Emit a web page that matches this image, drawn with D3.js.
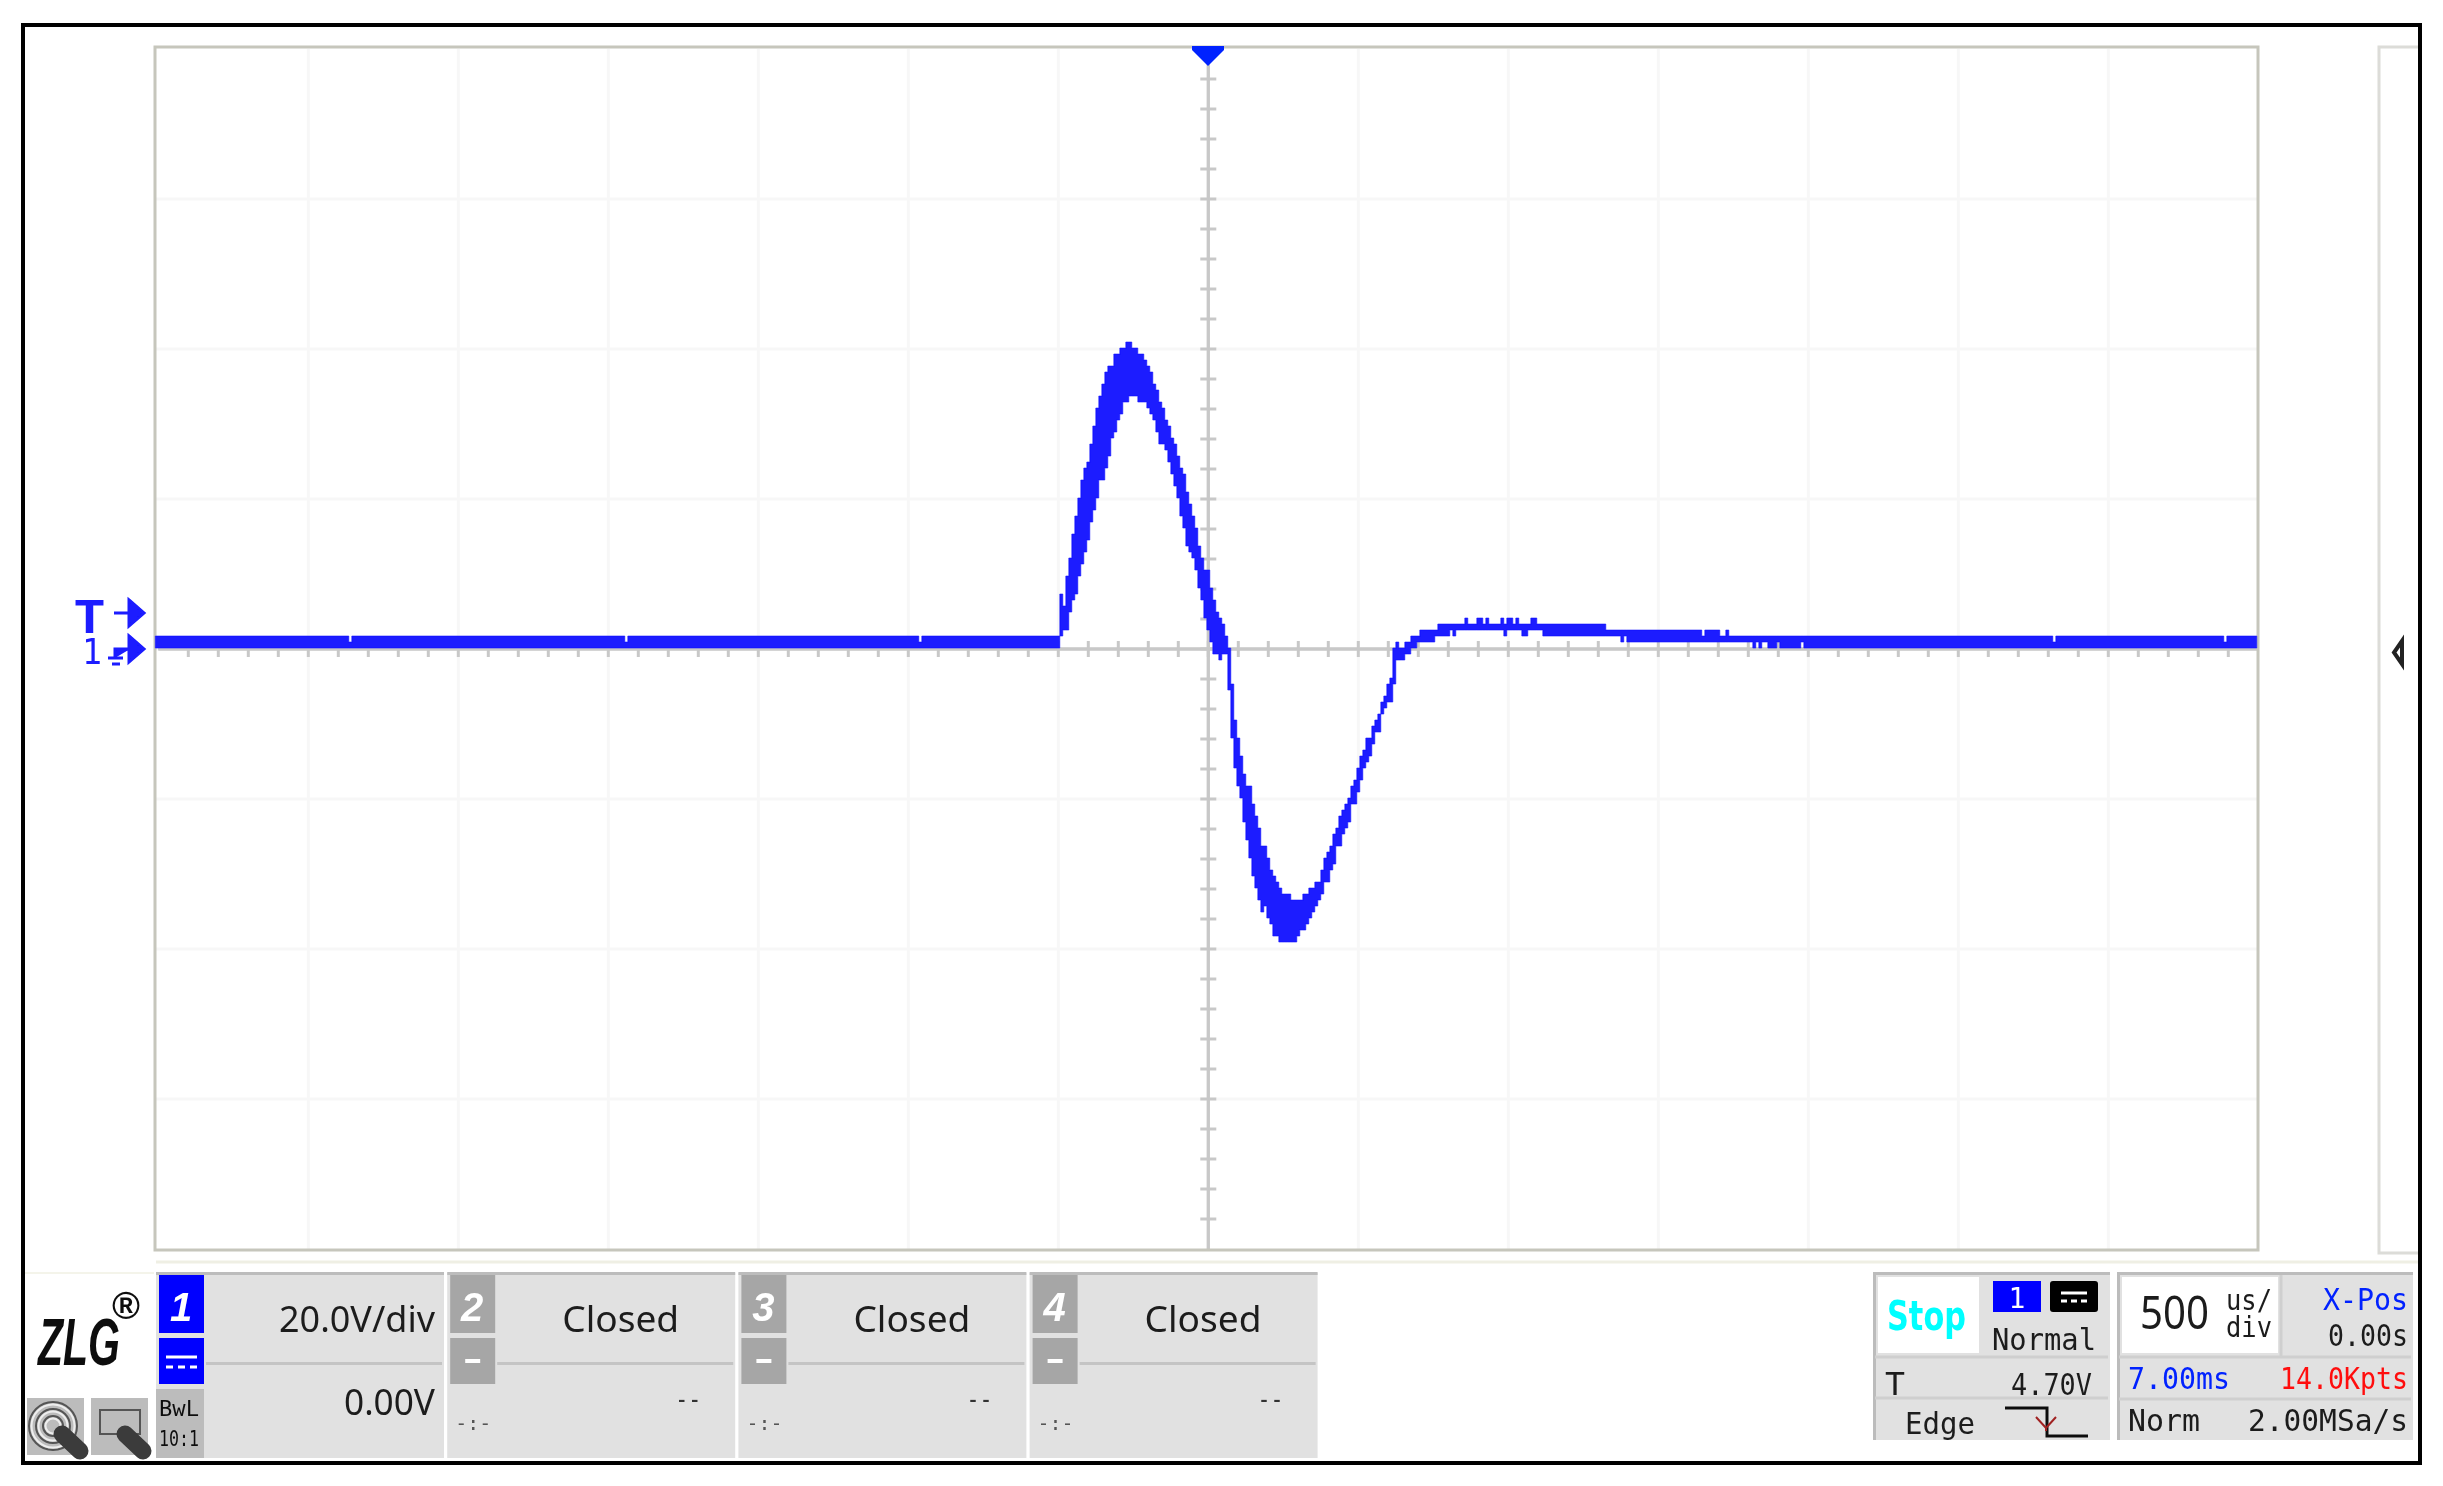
<!DOCTYPE html>
<html>
<head>
<meta charset="utf-8">
<script src="https://cdn.jsdelivr.net/npm/d3@7"></script>
<style>
  body { margin: 0; background: #fff; }
  svg { display: block; }
</style>
</head>
<body>
<div id="scope"></div>
<script>
// time of each display column (us), start of the step
var waveTime = [
  -3510, -2865, -2855, -1945, -1935, -965, -955,
  -495, -485, -475, -465, -455, -445, -435, -425, -415, -405,
  -395, -385, -375, -365, -355, -345, -335, -325, -315, -305,
  -295, -285, -275, -265, -255, -245, -235, -225, -215, -205,
  -195, -185, -175, -165, -155, -145, -135, -125, -115, -105,
  -95, -85, -75, -65, -55, -45, -35, -25, -15, -5,
  5, 15, 25, 35, 45, 55, 65, 75, 85, 95,
  105, 115, 125, 135, 145, 155, 165, 175, 185, 195,
  205, 215, 225, 235, 245, 255, 265, 275, 285, 295,
  305, 315, 325, 335, 345, 355, 365, 375, 385, 395,
  405, 415, 425, 435, 445, 455, 465, 475, 485, 495,
  505, 515, 525, 535, 545, 555, 565, 575, 585, 595,
  605, 615, 625, 635, 645, 655, 665, 675, 685, 695,
  705, 755, 765, 805, 815, 825, 855, 865, 895, 915,
  925, 935, 975, 985, 995, 1015, 1025, 1035, 1045, 1065,
  1075, 1095, 1115, 1325, 1375, 1385, 1395, 1645, 1655, 1705,
  1725, 1735, 1815, 1825, 1835, 1845, 1865, 1895, 1905, 1975,
  1985, 2815, 2825, 3385, 3395, 3495
];

// top of the trace envelope (V)
var waveTop = [
  1.73, 0.93, 1.73, 0.93, 1.73, 0.93, 1.73,
  7.33, 5.73, 9.73, 12.13, 15.33, 17.73, 20.13, 22.53, 24.13, 24.93,
  27.33, 29.73, 32.13, 33.73, 35.33, 36.93, 37.73, 37.73, 39.33, 39.33,
  40.13, 40.13, 40.93, 40.93, 40.13, 40.13, 39.33, 39.33, 38.53, 37.73,
  36.93, 35.33, 34.53, 32.93, 32.13, 30.53, 29.73, 28.13, 27.33, 25.73,
  24.13, 23.33, 20.93, 19.33, 17.73, 16.13, 13.73, 12.13, 10.53, 10.53,
  8.13, 6.53, 4.93, 4.13, 3.33, 1.73, 0.13, -4.67, -9.47, -11.87,
  -14.27, -16.67, -18.27, -18.27, -20.67, -22.27, -23.87, -26.27, -26.27, -27.87,
  -29.47, -30.27, -31.07, -31.87, -32.67, -32.67, -32.67, -33.47, -33.47, -33.47,
  -33.47, -32.67, -32.67, -31.87, -31.87, -31.07, -31.07, -29.47, -27.87, -27.07,
  -26.27, -24.67, -23.87, -22.27, -21.47, -20.67, -19.87, -18.27, -17.47, -15.87,
  -14.27, -13.47, -11.87, -11.87, -10.27, -9.47, -8.67, -7.07, -6.27, -4.67,
  -3.87, 0.13, 0.93, 0.13, 0.13, 0.93, 0.93, 1.73, 1.73, 1.73,
  2.53, 2.53, 3.33, 3.33, 3.33, 3.33, 4.13, 3.33, 4.13, 3.33,
  4.13, 3.33, 4.13, 3.33, 4.13, 3.33, 4.13, 3.33, 3.33, 3.33,
  4.13, 3.33, 3.33, 2.53, 2.53, 2.53, 2.53, 1.73, 2.53, 1.73,
  2.53, 1.73, 1.73, 1.73, 1.73, 1.73, 1.73, 1.73, 1.73, 1.73,
  1.73, 0.93, 1.73, 0.93, 1.73, 1.73
];

// bottom of the trace envelope (V)
var waveBottom = [
  0.13, 0.13, 0.13, 0.13, 0.13, 0.13, 0.13,
  1.73, 2.53, 2.53, 4.93, 6.53, 7.33, 9.73, 11.33, 12.93, 14.53,
  16.93, 18.53, 20.13, 22.53, 22.53, 24.13, 25.73, 28.13, 28.93, 30.53,
  31.33, 32.93, 32.93, 33.73, 33.73, 33.73, 32.93, 32.93, 32.93, 32.13,
  31.33, 30.53, 28.93, 27.33, 27.33, 26.53, 24.93, 23.33, 21.73, 20.13,
  17.73, 16.13, 13.73, 12.93, 12.13, 10.53, 8.13, 6.53, 4.13, 2.53,
  0.93, -0.67, -0.67, -1.47, -0.67, -0.67, -5.47, -11.87, -15.87, -18.27,
  -19.87, -23.07, -25.47, -27.87, -30.27, -31.87, -33.47, -35.07, -34.27, -35.87,
  -36.67, -38.27, -38.27, -39.07, -39.07, -39.07, -39.07, -39.07, -39.07, -38.27,
  -37.47, -37.47, -36.67, -35.87, -35.07, -34.27, -33.47, -32.67, -31.07, -31.07,
  -29.47, -28.67, -26.27, -26.27, -24.67, -23.87, -23.07, -20.67, -20.67, -19.07,
  -17.47, -15.87, -15.07, -14.27, -12.67, -11.07, -11.07, -8.67, -7.87, -7.07,
  -7.07, -4.67, -1.47, -1.47, -1.47, -0.67, -0.67, 0.13, 0.13, 0.93,
  0.93, 1.73, 1.73, 2.53, 1.73, 2.53, 2.53, 2.53, 2.53, 2.53,
  2.53, 2.53, 2.53, 1.73, 2.53, 2.53, 2.53, 2.53, 1.73, 2.53,
  2.53, 2.53, 1.73, 1.73, 0.93, 1.73, 0.93, 0.93, 0.93, 0.93,
  0.93, 0.93, 0.13, 0.93, 0.13, 0.93, 0.13, 0.93, 0.13, 0.93,
  0.13, 0.13, 0.13, 0.13, 0.13, 0.13
];

var channelNames = ["1", "2", "3", "4"];
var channelScales = ["20.0V/div", "Closed", "Closed", "Closed"];
var channelOffsets = ["0.00V", "--", "--", "--"];

var W = 2443, H = 1486;
var blue = "#1a1aff", axisGray = "#c8c8c8", frameGray = "#c6c6bc", panelGray = "#e1e1e1", edgeGray = "#bcbcbc", boxGray = "#a6a6a6";
var mono = "'DejaVu Sans Mono', monospace", sans = "'Noto Sans', sans-serif";

var svg = d3.select("#scope").append("svg")
    .attr("width", W)
    .attr("height", H);

// the reference is an upscaled screenshot, so soften everything a little
var defs = svg.append("defs");
defs.append("filter").attr("id", "soft")
  .append("feGaussianBlur").attr("stdDeviation", 0.6);

var root = svg.append("g").attr("filter", "url(#soft)");
root.append("rect").attr("width", W).attr("height", H).attr("fill", "#fff");

// set the ranges: 14 x 500us across, 8 x 20V up
var x = d3.scaleLinear().domain([-3500, 3500]).range([158.3, 2258.3]);
var y = d3.scaleLinear().domain([-80, 80]).range([1249, 49]);

// grid
var gridX = root.append("g")
    .attr("transform", "translate(0,49)")
    .call(d3.axisBottom(x).tickValues(d3.range(-3000, 3001, 500)).tickSize(1200).tickFormat("").offset(0));
var gridY = root.append("g")
    .attr("transform", "translate(155,0)")
    .call(d3.axisRight(y).tickValues(d3.range(-60, 61, 20)).tickSize(2103).tickFormat("").offset(0));
gridX.select(".domain").remove();
gridY.select(".domain").remove();
root.selectAll("g.tick line").attr("stroke", "#f7f7f7").attr("stroke-width", 3);

// centre axes, ticks on both sides of the line
function centreAxis(axis, tx, ty) {
  var g = root.append("g")
      .attr("transform", "translate(" + tx + "," + ty + ")")
      .call(axis.tickSize(8).tickSizeOuter(0).tickFormat("").offset(0));
  g.select(".domain").attr("stroke", axisGray).attr("stroke-width", 3);
  g.selectAll("line").attr("stroke", axisGray).attr("stroke-width", 3);
}
var xTicks = d3.range(-3400, 3401, 100);
var yTicks = d3.range(-76, 77, 4);
centreAxis(d3.axisBottom(x).tickValues(xTicks), 0, y(0));
centreAxis(d3.axisTop(x).tickValues(xTicks), 0, y(0));
centreAxis(d3.axisLeft(y).tickValues(yTicks), x(0), 0);
centreAxis(d3.axisRight(y).tickValues(yTicks), x(0), 0);

// plot frame and the empty strip on the right
root.append("rect")
    .attr("x", 155).attr("y", 47).attr("width", 2103).attr("height", 1203)
    .attr("fill", "none").attr("stroke", frameGray).attr("stroke-width", 3);
root.append("path")
    .attr("d", "M2418,47H2379V1253H2418")
    .attr("fill", "none").attr("stroke", "#dcdcd8").attr("stroke-width", 3);
root.append("path")
    .attr("d", "M2402,641L2394,652.5L2402,664Z")
    .attr("fill", "#fff").attr("stroke", "#222").attr("stroke-width", 4);

// the waveform
var area = d3.area()
    .curve(d3.curveStepAfter)
    .x(function(d) { return x(d); })
    .y0(function(d, i) { return y(waveBottom[i]); })
    .y1(function(d, i) { return y(waveTop[i]); });
root.append("path")
    .datum(waveTime)
    .attr("d", area)
    .attr("fill", blue)
    .attr("stroke", blue)
    .attr("stroke-width", 0.6);

// trigger position marker
root.append("path")
    .attr("d", "M1192,46H1224V50L1208,66L1192,50Z")
    .attr("fill", "#0024ff");

function label(parent, text, xPos, yPos, opts) {
  var t = parent.append("text")
      .text(text)
      .attr("x", xPos)
      .attr("y", yPos)
      .attr("font-family", opts.family || mono)
      .attr("font-size", opts.size || 30)
      .attr("fill", opts.fill || "#1c1c1c")
      .attr("text-anchor", opts.anchor || "start");
  if (opts.weight) t.attr("font-weight", opts.weight);
  if (opts.style) t.attr("font-style", opts.style);
  if (opts.width) t.attr("textLength", opts.width).attr("lengthAdjust", "spacingAndGlyphs");
  return t;
}

// level markers left of the plot
label(root, "T", 74, 633, {size: 50, fill: blue, width: 31, family: "'Liberation Mono', monospace", weight: "bold"});
label(root, "1", 82, 664, {size: 36, fill: blue, width: 20, family: "'DejaVu Sans Mono', monospace"});
root.append("path").attr("d", "M114,613H130M129,600L144,613L129,626Z").attr("stroke", blue).attr("stroke-width", 3).attr("fill", blue);
root.append("path").attr("d", "M115,658V649H130M129,636L144,649L129,662Z").attr("stroke", blue).attr("stroke-width", 3).attr("fill", blue);
root.append("path").attr("d", "M108,658H123M112,664H120").attr("stroke", blue).attr("stroke-width", 3).attr("fill", "none");

// separators under the plot
root.append("path").attr("d", "M156,1262H2418").attr("stroke", "#efefe4").attr("stroke-width", 3);
root.append("path").attr("d", "M25,1273H154").attr("stroke", "#f4f4ea").attr("stroke-width", 2);

// logo and touch icons
label(root, "ZLG", 38, 1365, {size: 66, fill: "#111", weight: "bold", style: "italic", family: "'Liberation Sans', sans-serif", width: 82});
label(root, "\u00ae", 112, 1319, {size: 38, fill: "#111", weight: "bold", family: "'Liberation Sans', sans-serif"});
root.append("rect").attr("x", 27).attr("y", 1398).attr("width", 57).attr("height", 57).attr("fill", "#bcbcbc");
root.append("rect").attr("x", 91).attr("y", 1398).attr("width", 57).attr("height", 57).attr("fill", "#bcbcbc");
[24, 17, 10].forEach(function(r) {
  root.append("circle").attr("cx", 53).attr("cy", 1426).attr("r", r)
      .attr("fill", "none").attr("stroke", "#555").attr("stroke-width", 2);
  root.append("circle").attr("cx", 53).attr("cy", 1426).attr("r", r - 2.5)
      .attr("fill", "none").attr("stroke", "#eee").attr("stroke-width", 2);
});
root.append("rect").attr("x", 100).attr("y", 1410).attr("width", 40).attr("height", 24)
    .attr("fill", "none").attr("stroke", "#555").attr("stroke-width", 2);
root.append("path").attr("d", "M62,1434L80,1451M125,1434L143,1451")
    .attr("stroke", "#3a3a3a").attr("stroke-width", 17).attr("stroke-linecap", "round");

// channel panels
channelNames.forEach(function(name, i) {
  var px = 156 + i * 291.2;
  var on = i === 0;
  var g = root.append("g").attr("transform", "translate(" + px + ",0)");
  g.append("rect").attr("y", 1273).attr("width", 288).attr("height", 185).attr("fill", panelGray);
  g.append("rect").attr("y", 1272).attr("width", 288).attr("height", 3).attr("fill", edgeGray);
  g.append("rect").attr("x", 3).attr("y", 1275).attr("width", 45).attr("height", 58).attr("fill", on ? "#0000ff" : boxGray);
  g.append("rect").attr("x", 3).attr("y", 1338).attr("width", 45).attr("height", 46).attr("fill", on ? "#0000ff" : boxGray);
  g.append("rect").attr("x", 50).attr("y", 1362).attr("width", 236).attr("height", 3).attr("fill", "#c4c4c4");
  label(g, name, 25, 1321, {size: 40, fill: "#fff", weight: "bold", style: "italic", anchor: "middle", family: "'Liberation Sans', sans-serif"});
  if (on) {
    g.append("path").attr("d", "M10,1357H41").attr("stroke", "#fff").attr("stroke-width", 3);
    g.append("path").attr("d", "M10,1367H41").attr("stroke", "#fff").attr("stroke-width", 3).attr("stroke-dasharray", "7 5");
    g.append("rect").attr("x", 0).attr("y", 1389).attr("width", 48).attr("height", 69).attr("fill", "#bcbcbc");
    label(g, "BwL", 3, 1416, {size: 22, width: 40, fill: "#111"});
    label(g, "10:1", 3, 1446, {size: 22, width: 40, fill: "#111"});
    label(g, channelScales[i], 123, 1332, {size: 36, family: sans, width: 156});
    label(g, channelOffsets[i], 188, 1415, {size: 36, family: sans, width: 91});
  } else {
    g.append("path").attr("d", "M18,1361H33").attr("stroke", "#fff").attr("stroke-width", 4);
    label(g, channelScales[i], 115, 1332, {size: 36, family: sans, width: 117});
    label(g, channelOffsets[i], 228, 1408, {size: 26, width: 26, fill: "#333"});
    label(g, "-:-", 8, 1430, {size: 20, width: 36, fill: "#555"});
  }
});

// trigger box
var trig = root.append("g");
trig.append("rect").attr("x", 1873).attr("y", 1272).attr("width", 237).attr("height", 168).attr("fill", panelGray);
trig.append("path").attr("d", "M1873,1273.5H2110M1874.5,1272V1440").attr("stroke", edgeGray).attr("stroke-width", 3).attr("fill", "none");
trig.append("rect").attr("x", 1878).attr("y", 1277).attr("width", 101).attr("height", 76).attr("fill", "#fff");
label(trig, "Stop", 1887, 1330, {size: 40, fill: "#00ffff", weight: "bold", width: 79, family: "'DejaVu Sans', sans-serif"});
trig.append("rect").attr("x", 1993).attr("y", 1281).attr("width", 48).attr("height", 31).attr("fill", "#0000ff");
trig.append("rect").attr("x", 2050).attr("y", 1281).attr("width", 48).attr("height", 31).attr("rx", 3).attr("fill", "#000");
label(trig, "1", 2017, 1308, {size: 28, fill: "#fff", anchor: "middle"});
trig.append("path").attr("d", "M2061,1293H2087").attr("stroke", "#fff").attr("stroke-width", 3);
trig.append("path").attr("d", "M2061,1301H2087").attr("stroke", "#fff").attr("stroke-width", 3).attr("stroke-dasharray", "6 4");
label(trig, "Normal", 1992, 1350, {width: 104});
trig.append("path").attr("d", "M1875,1357H2108M1875,1398H2108").attr("stroke", "#cfcfcf").attr("stroke-width", 3);
label(trig, "T", 1885, 1395, {size: 32, width: 20});
label(trig, "4.70V", 2011, 1395, {width: 81});
label(trig, "Edge", 1905, 1434, {width: 70});
trig.append("path").attr("d", "M2005,1408H2047V1436H2088").attr("stroke", "#111").attr("stroke-width", 3).attr("fill", "none");
trig.append("path").attr("d", "M2036,1417L2046,1428L2056,1417M2046,1428V1431").attr("stroke", "#a02020").attr("stroke-width", 2).attr("fill", "none");

// timebase box
var base = root.append("g");
base.append("rect").attr("x", 2117).attr("y", 1272).attr("width", 296).attr("height", 168).attr("fill", panelGray);
base.append("path").attr("d", "M2117,1273.5H2413M2118.5,1272V1440").attr("stroke", edgeGray).attr("stroke-width", 3).attr("fill", "none");
base.append("rect").attr("x", 2122).attr("y", 1277).attr("width", 156).attr("height", 76).attr("fill", "#fff");
base.append("path").attr("d", "M2281,1275V1357").attr("stroke", "#cfcfcf").attr("stroke-width", 3);
label(base, "500", 2140, 1329, {size: 45, width: 69, family: sans});
label(base, "us/", 2226, 1310, {size: 28, width: 46});
label(base, "div", 2226, 1337, {size: 28, width: 46});
label(base, "X-Pos", 2323, 1310, {fill: "#0020ff", width: 85});
label(base, "0.00s", 2328, 1346, {width: 80});
base.append("path").attr("d", "M2119,1357H2411M2119,1399H2411").attr("stroke", "#cfcfcf").attr("stroke-width", 3);
label(base, "7.00ms", 2128, 1389, {fill: "#0020ff", width: 102});
label(base, "14.0Kpts", 2280, 1389, {fill: "#ff1010", width: 128});
label(base, "Norm", 2128, 1431, {width: 72});
label(base, "2.00MSa/s", 2248, 1431, {width: 160});

// outer frame
root.append("rect")
    .attr("x", 23).attr("y", 25).attr("width", 2397).attr("height", 1438)
    .attr("fill", "none").attr("stroke", "#000").attr("stroke-width", 4);
</script>
</body>
</html>
